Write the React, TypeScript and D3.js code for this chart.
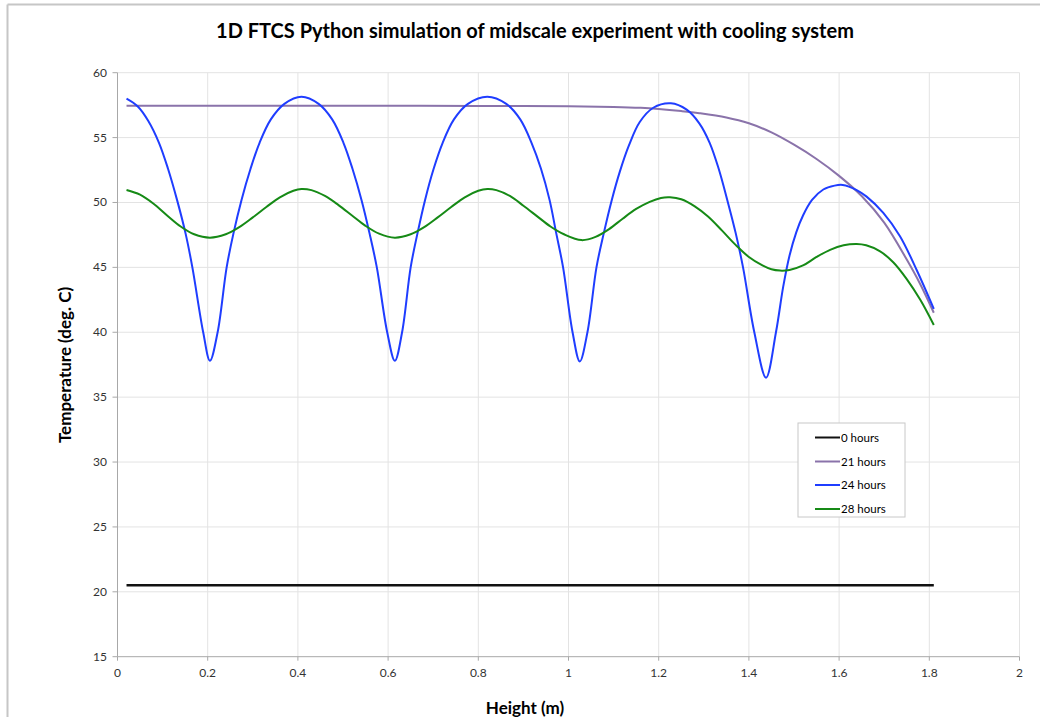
import React from "react";
import * as d3 from "d3";

// Simulated temperature profiles along the column height (m → °C)
const hoursLabels = ["0 hours", "21 hours", "24 hours", "28 hours"];
const seriesColors = ["#111111", "#8a73aa", "#1f3dff", "#168a16"];

const xTicks = [0, 0.2, 0.4, 0.6, 0.8, 1, 1.2, 1.4, 1.6, 1.8, 2];
const yTicks = [15, 20, 25, 30, 35, 40, 45, 50, 55, 60];

const hours0: [number, number][] = [
  [0.02, 20.5], [0.4, 20.5], [0.8, 20.5], [1.2, 20.5], [1.6, 20.5], [1.81, 20.5],
];

const hours21: [number, number][] = [
  [0.02, 57.45], [0.2, 57.45], [0.4, 57.45], [0.6, 57.45], [0.8, 57.44], [0.9, 57.43],
  [1.0, 57.41], [1.1, 57.36], [1.16, 57.29], [1.2, 57.2], [1.25, 57.04], [1.29, 56.88],
  [1.35, 56.55], [1.4, 56.1], [1.45, 55.4], [1.5, 54.45], [1.55, 53.35], [1.6, 52.05],
  [1.65, 50.5], [1.7, 48.45], [1.75, 45.6], [1.78, 43.7], [1.81, 41.5],
];

const hours24: [number, number][] = [
  [0.02, 58.0], [0.045, 57.4], [0.068, 56.3], [0.092, 54.6], [0.112, 52.6], [0.132, 50.2],
  [0.151, 47.6], [0.166, 45.0], [0.19, 40.0], [0.205, 37.8],
  [0.222, 40.0], [0.242, 45.0], [0.257, 47.6], [0.275, 50.2], [0.295, 52.6], [0.315, 54.6],
  [0.34, 56.4], [0.37, 57.6], [0.408, 58.15],
  [0.446, 57.6], [0.476, 56.4], [0.501, 54.6], [0.521, 52.6], [0.541, 50.2], [0.559, 47.6],
  [0.575, 45.0], [0.598, 40.0], [0.615, 37.8],
  [0.631, 40.0], [0.65, 45.0], [0.665, 47.6], [0.682, 50.2], [0.701, 52.6], [0.721, 54.6],
  [0.746, 56.4], [0.777, 57.6], [0.82, 58.15],
  [0.862, 57.6], [0.893, 56.4], [0.918, 54.6], [0.939, 52.6], [0.958, 50.2], [0.973, 47.6],
  [0.988, 45.0], [1.009, 40.0], [1.025, 37.75],
  [1.042, 40.0], [1.062, 45.0], [1.078, 47.6], [1.096, 50.2], [1.114, 52.4], [1.134, 54.4],
  [1.158, 56.2], [1.188, 57.3], [1.227, 57.64],
  [1.262, 57.15], [1.29, 56.1], [1.313, 54.6], [1.333, 52.6], [1.352, 50.2], [1.371, 47.6],
  [1.387, 45.0], [1.412, 40.0], [1.438, 36.5],
  [1.46, 40.0], [1.476, 43.5], [1.49, 45.9], [1.505, 47.7], [1.52, 49.0], [1.54, 50.2],
  [1.565, 51.0], [1.59, 51.3], [1.608, 51.35],
  [1.639, 50.96], [1.661, 50.45], [1.698, 49.2], [1.735, 47.4], [1.772, 44.8], [1.81, 41.8],
];

const hours28: [number, number][] = [
  [0.02, 50.96], [0.05, 50.6], [0.08, 49.9], [0.11, 49.0], [0.14, 48.15], [0.17, 47.55],
  [0.205, 47.29], [0.24, 47.55], [0.27, 48.1], [0.3, 48.85], [0.33, 49.65], [0.36, 50.4],
  [0.39, 50.9], [0.408, 51.04], [0.43, 50.95], [0.46, 50.5], [0.49, 49.8], [0.52, 49.0],
  [0.55, 48.2], [0.58, 47.6], [0.615, 47.29], [0.65, 47.55], [0.68, 48.1], [0.71, 48.85],
  [0.74, 49.65], [0.77, 50.4], [0.8, 50.9], [0.82, 51.04], [0.84, 50.95], [0.87, 50.5],
  [0.9, 49.75], [0.93, 48.95], [0.96, 48.15], [0.99, 47.55], [1.029, 47.1], [1.06, 47.35],
  [1.09, 47.95], [1.12, 48.75], [1.15, 49.5], [1.18, 50.05], [1.205, 50.35], [1.225, 50.4],
  [1.25, 50.25], [1.28, 49.7], [1.31, 48.9], [1.34, 47.85], [1.37, 46.75], [1.4, 45.8],
  [1.43, 45.15], [1.45, 44.85], [1.469, 44.75], [1.49, 44.8], [1.52, 45.15], [1.55, 45.8],
  [1.58, 46.35], [1.61, 46.7], [1.639, 46.8], [1.66, 46.7], [1.69, 46.25], [1.72, 45.4],
  [1.75, 44.1], [1.78, 42.5], [1.81, 40.56],
];

const seriesData = [hours0, hours21, hours24, hours28];

const W = 1049;
const H = 717;
const FONT = "Lato, 'Open Sans', sans-serif";

export default function App() {
  const x = d3.scaleLinear().domain([0, 2]).range([117.5, 1019.5]);
  const y = d3.scaleLinear().domain([15, 60]).range([656.7, 72.7]);

  const line = d3
    .line<[number, number]>()
    .x((d) => x(d[0]))
    .y((d) => y(d[1]))
    .curve(d3.curveCatmullRom.alpha(0.5));

  const legendX = 798;
  const legendY = 423;
  const legendRows = [437.5, 461.5, 485, 509];

  return (
    <svg
      width={W}
      height={H}
      style={{ position: "absolute", left: 0, top: 0, background: "#fff" }}
    >
      {/* outer frame */}
      <line x1={7.5} y1={4.5} x2={1040} y2={4.5} stroke="#c6c6c6" strokeWidth={2} />
      <line x1={7.5} y1={4.5} x2={7.5} y2={H} stroke="#c6c6c6" strokeWidth={2} />

      <text
        x={535}
        y={38}
        textAnchor="middle"
        fontFamily={FONT}
        fontWeight="bold"
        fontSize={20}
        fill="#000"
      >
        1D FTCS Python simulation of midscale experiment with cooling system
      </text>

      {/* grid */}
      {yTicks.slice(1).map((t) => (
        <line
          key={"gy" + t}
          x1={x(0)}
          x2={x(2)}
          y1={y(t)}
          y2={y(t)}
          stroke="#e3e3e3"
          strokeWidth={1}
        />
      ))}
      {xTicks.slice(1).map((t) => (
        <line
          key={"gx" + t}
          x1={x(t)}
          x2={x(t)}
          y1={y(15)}
          y2={y(60)}
          stroke="#e3e3e3"
          strokeWidth={1}
        />
      ))}

      {/* axes */}
      <line x1={x(0)} x2={x(0)} y1={y(60)} y2={y(15)} stroke="#a8a8a8" strokeWidth={1} />
      <line x1={x(0)} x2={x(2)} y1={y(15)} y2={y(15)} stroke="#a8a8a8" strokeWidth={1} />
      {yTicks.map((t) => (
        <g key={"ty" + t}>
          <line x1={x(0) - 5} x2={x(0)} y1={y(t)} y2={y(t)} stroke="#a8a8a8" />
          <text
            x={107}
            y={y(t) + 4}
            textAnchor="end"
            fontFamily={FONT}
            fontSize={12}
            fill="#333"
          >
            {t}
          </text>
        </g>
      ))}
      {xTicks.map((t) => (
        <g key={"tx" + t}>
          <line x1={x(t)} x2={x(t)} y1={y(15)} y2={y(15) + 4} stroke="#a8a8a8" />
          <text
            x={x(t)}
            y={677}
            textAnchor="middle"
            fontFamily={FONT}
            fontSize={12}
            fill="#333"
          >
            {t}
          </text>
        </g>
      ))}

      {/* axis titles */}
      <text
        x={525}
        y={714}
        textAnchor="middle"
        fontFamily={FONT}
        fontWeight="bold"
        fontSize={17}
        fill="#000"
      >
        Height (m)
      </text>
      <text
        transform={`translate(71,365) rotate(-90)`}
        textAnchor="middle"
        fontFamily={FONT}
        fontWeight="bold"
        fontSize={17}
        fill="#000"
      >
        Temperature (deg. C)
      </text>

      {/* series */}
      {seriesData.map((s, i) => (
        <path
          key={"s" + i}
          d={line(s) || ""}
          fill="none"
          stroke={seriesColors[i]}
          strokeWidth={i === 0 ? 2.4 : 2}
          strokeLinejoin="round"
        />
      ))}

      {/* legend */}
      <rect
        x={legendX}
        y={legendY}
        width={107}
        height={94}
        fill="#fff"
        stroke="#c8c8c8"
        strokeWidth={1}
      />
      {hoursLabels.map((lab, i) => (
        <g key={"lg" + i}>
          <line
            x1={815}
            x2={840}
            y1={legendRows[i]}
            y2={legendRows[i]}
            stroke={seriesColors[i]}
            strokeWidth={2}
          />
          <text
            x={841}
            y={legendRows[i] + 4}
            fontFamily={FONT}
            fontSize={11.5}
            fill="#000"
          >
            {lab}
          </text>
        </g>
      ))}
    </svg>
  );
}
